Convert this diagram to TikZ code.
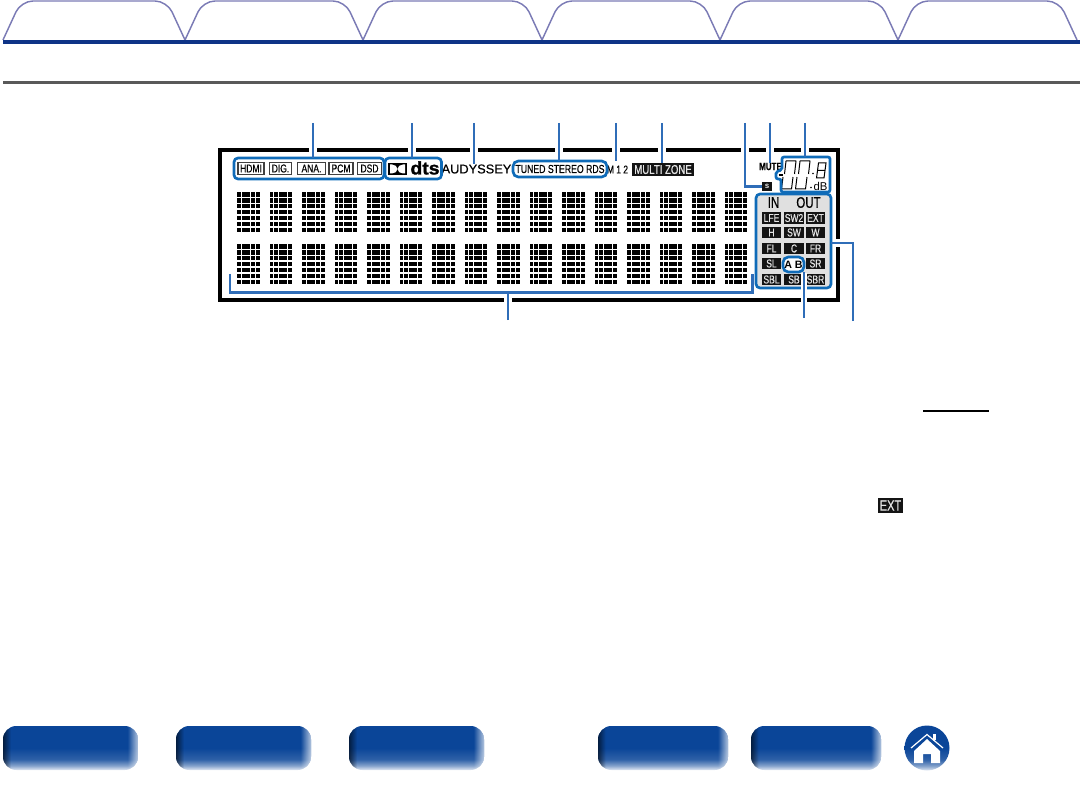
\documentclass[tikz,border=0pt]{standalone}
\usepackage{fontspec}
\setmainfont{Liberation Sans}
\newfontfamily\lcdfont[FakeStretch=0.75,FakeBold=0.5]{Liberation Sans}
\newfontfamily\logofont[FakeBold=1.5,FakeStretch=1.08]{Liberation Sans Bold}
\newfontfamily\brandfont[FakeBold=0.4]{Liberation Sans}
\usetikzlibrary{fadings}
\definecolor{tabline}{HTML}{7B7BB5}
\definecolor{navline}{HTML}{0E3386}
\definecolor{ruleline}{HTML}{595959}
\definecolor{callout}{HTML}{0F6BB8}
\definecolor{leader}{HTML}{2F6DB8}
\definecolor{btnblue}{HTML}{0A4598}
\pgfdeclareverticalshading{btnshade}{100bp}{color(0bp)=(btnblue!12!white);color(25bp)=(btnblue!12!white);color(30bp)=(btnblue!50!white);color(37bp)=(btnblue!85!white);color(50bp)=(btnblue);color(100bp)=(btnblue)}
\pgfdeclarehorizontalshading{edgeleftmask}{100bp}{color(0bp)=(pgftransparent!40);color(25bp)=(pgftransparent!40);color(28bp)=(pgftransparent!100);color(100bp)=(pgftransparent!100)}
\pgfdeclarehorizontalshading{edgerightmask}{100bp}{color(0bp)=(pgftransparent!100);color(71bp)=(pgftransparent!100);color(75bp)=(pgftransparent!30);color(100bp)=(pgftransparent!30)}
\pgfdeclarefading{edgeleft}{\pgfuseshading{edgeleftmask}}
\pgfdeclarefading{edgeright}{\pgfuseshading{edgerightmask}}
\tikzset{
  chip/.style={draw=black!75,line width=0.8pt,fill=white,inner sep=0pt,font=\lcdfont\fontsize{8.5}{9}\selectfont},
  blackchip/.style={fill=black!92,text=white!90!black,inner sep=0pt,font=\lcdfont\fontsize{8.5}{9}\selectfont},
  calloutbox/.style={draw=callout,line width=2pt,rounded corners=3pt,inner sep=0pt,outer sep=0pt},
  leaderline/.style={draw=leader,line width=2pt},
  halo/.style={draw=white,line width=6pt},
  segment/.style={draw=black,line width=0.75pt},
}
\newcommand{\btn}[3]{% name, left, right
  \path[rounded corners=10pt,shading=btnshade] (#2,726) rectangle (#3,770);
  \fill[white,rounded corners=10pt,path fading=edgeright,fit fading=true] (#2,726) rectangle (#3,770);
  \fill[black,rounded corners=10pt,path fading=edgeleft,fit fading=true] (#2,726) rectangle (#3,770);
  \coordinate (#1) at (#2,748);}
\newcommand{\dotblock}[2]{% left, top
  \foreach \c in {0,...,4}{\foreach \r in {0,...,6}{
    \fill (#1+\c*4.65,#2+\r*5.95) rectangle +(3.9,4.6);}}}
\newcommand{\digit}[1]{% left
  \draw[segment,line join=round] (#1+1.5,174) -- (#1+3,161) -- (#1+13,161) -- (#1+11.5,174);
  \draw[segment,line join=round] (#1,177) -- (#1-1.5,189) -- (#1+8.5,189) -- (#1+10,177);}
\begin{document}
\begin{tikzpicture}[x=0.75pt,y=-0.75pt]
\useasboundingbox (0,0) rectangle (1080,791);
% tabs
\foreach \a/\b in {3/185,185/363,363/542,542/720,720/898,898/1077}
  \draw[tabline,line width=1.1pt,rounded corners=9pt] (\a,40) -- (\a+18,1) -- (\b-18,1) -- (\b,40);
\coordinate (navleft) at (3,42);
\coordinate (navright) at (1080,42);
\draw[navline,line width=3pt] (navleft) -- (navright);
\coordinate (ruleleft) at (3,82.5);
\coordinate (ruleright) at (1080,82.5);
\draw[ruleline,line width=2.2pt] (ruleleft) -- (ruleright);
% display frame
\draw[line width=2.3pt] (220,150) rectangle (838,300);
% dot matrix
\foreach \k in {0,...,15}{
  \dotblock{237+\k*32.5}{192}
  \dotblock{237+\k*32.5}{244}}
% top row
\node[chip,minimum width=19.5pt,minimum height=9.5pt] (hdmi) at (251,168.5) {HDMI};
\node[chip,minimum width=17pt,minimum height=9.5pt] (dig) at (280.5,168.5) {DIG.};
\node[chip,minimum width=21.5pt,minimum height=9.5pt] (ana) at (311.5,168.5) {ANA.};
\node[chip,minimum width=18pt,minimum height=9.5pt] (pcm) at (341,168.5) {PCM};
\node[chip,minimum width=17.5pt,minimum height=9.5pt] (dsd) at (369.5,168.5) {DSD};
\fill (388,163) rectangle (407,175);
\fill[white] (390,164.5) -- (392,164.5) arc (-90:90:5.5 and 4.5) -- (390,173.5) -- cycle;
\fill[white] (405,164.5) -- (403,164.5) arc (-90:-270:5.5 and 4.5) -- (405,173.5) -- cycle;
\node[inner sep=0pt,font=\logofont\fontsize{13.5}{13}\selectfont] (dts) at (425,168) {dts};
\node[inner sep=0pt,font=\brandfont\fontsize{9.6}{10}\selectfont] (audyssey) at (476.5,169) {AUDYSSEY};
\node[inner sep=0pt,font=\lcdfont\fontsize{8.7}{9}\selectfont] (tuned) at (560,169) {TUNED STEREO RDS};
\node[inner sep=0pt,inner ysep=3.5pt,font=\lcdfont\fontsize{8.4}{9}\selectfont] (mtwo) at (617.5,169.5) {M 1 2};
\node[blackchip,minimum width=46.5pt,minimum height=9.8pt,font=\lcdfont\fontsize{9.6}{10}\selectfont] (zone) at (663,169.5) {MULTI ZONE};
\node[blackchip,minimum width=7.5pt,minimum height=7pt,font=\fontsize{6}{6}\selectfont\bfseries] (sbox) at (767,186.5) {s};
\node[inner sep=0pt,font=\lcdfont\fontsize{8}{8}\selectfont\bfseries] (mute) at (770.5,166.5) {MUTE};
% level digits
\digit{783}
\digit{797}
\draw[segment] (818.5,163) -- (826,163) -- (824,178) -- (816.5,178) -- cycle (817.5,170.5) -- (825,170.5);
\fill (813,173.5) circle (.9);
\fill (811,187.5) circle (.9);
\draw[segment,line width=1pt] (778.5,175) -- (783,175);
\node[inner sep=0pt,font=\fontsize{8.5}{9}\selectfont] (db) at (820.5,186.5) {dB};
% channels
\node[calloutbox,fill=black!12,minimum width=56.25pt,minimum height=70.5pt] (chanbox) at (793.5,241) {};
\node[inner sep=0pt,font=\lcdfont\fontsize{11.5}{12}\selectfont] (inlabel) at (773.5,202.5) {IN};
\node[inner sep=0pt,font=\lcdfont\fontsize{11.5}{12}\selectfont] (outlabel) at (808.5,202.5) {OUT};
\foreach \na/\xa/\ya/\ta in {lfe/771.5/218/LFE,swtwo/794/218/SW2,ext/815.5/218/EXT,
  hgt/771.5/232.5/H,sw/794/232.5/SW,wide/815.5/232.5/W,
  fl/771.5/248.5/FL,cen/794/248.5/C,fr/815.5/248.5/FR,
  sl/771.5/263.5/SL,sr/815.5/263.5/SR,
  sbl/771.5/279.5/SBL,sb/794/279.5/SB,sbr/815.5/279.5/SBR}
  \node[blackchip,minimum width=14.6pt,minimum height=8.3pt] (\na) at (\xa,\ya) {\ta};
\node[calloutbox,fill=white,rounded corners=4pt,minimum width=15.75pt,minimum height=11.25pt,font=\fontsize{8}{8}\selectfont\bfseries] (abbox) at (793.5,264.5) {A B};
% page marks
\draw[line width=1pt] (923,411) -- (989,411);
\node[blackchip,minimum width=18.5pt,minimum height=11pt,font=\lcdfont\fontsize{11}{11}\selectfont] (extmark) at (890.5,505.5) {EXT};
% callout boxes
\node[calloutbox,minimum width=112.5pt,minimum height=15.75pt] (inputbox) at (309,168.5) {};
\node[calloutbox,minimum width=42.4pt,minimum height=15.75pt] (logobox) at (413.25,168.5) {};
\node[calloutbox,rounded corners=4pt,minimum width=70.5pt,minimum height=12pt] (tunedbox) at (560,169) {};
\draw[calloutbox,rounded corners=1.5pt] (782,170) -- (782,157) -- (830,157) -- (830,192) -- (781,192) -- (781,179) -- (776,179) -- (776,171.5) -- cycle;
\coordinate (levelbox) at (805,157);
% leaders
\foreach \xl in {313,412,474,559,616,662,745,770,805}
  \draw[halo] (\xl,146) -- (\xl,154.5);
\foreach \na/\xl/\target in {a/313/inputbox,b/412/logobox,c/474/audyssey,d/559/tunedbox,e/616/mtwo,f/662/zone,g/770/mute,h/805/levelbox}{
  \coordinate (top\na) at (\xl,123);
  \draw[leaderline] (top\na) -- (top\na |- \target.north);}
\coordinate (topi) at (745,123);
\draw[leaderline] (topi) |- (sbox.west);
% bracket under the matrix
\coordinate (brl) at (230,274);
\coordinate (brr) at (752.5,274);
\coordinate (brm) at (508,320);
\draw[leaderline] (brl) -- (230,292.7) -- (752.5,292.7) -- (brr);
\draw[halo] (508,298) -- (508,302);
\draw[leaderline] (brm) -- (508,292.7);
% lower right leaders
\coordinate (abend) at (804,318);
\coordinate (chend) at (853,321);
\draw[halo,line width=4.5pt] (804,273) -- (804,305);
\draw[leaderline] (abend) -- (abend |- abbox.south);
\draw[halo] (834,243) -- (842,243);
\draw[leaderline] (chend) |- (chanbox.east |- 0,243);
% buttons
\btn{bfirst}{3}{138}
\btn{bsecond}{176}{311}
\btn{bthird}{349}{484}
\btn{bfourth}{598}{728}
\btn{bfifth}{751}{881}
\path[shading=btnshade] (927,748) circle (22.5);
\fill[white] (914,751) -- (927,739) -- (940,751) -- (940,763) -- (931,763) -- (931,754) -- (923,754) -- (923,763) -- (914,763) -- cycle;
\draw[white,line width=0.9pt] (911,748) -- (927,734.5) -- (943,748);
\fill[white] (933,734) rectangle (936,740);
\end{tikzpicture}
\end{document}
